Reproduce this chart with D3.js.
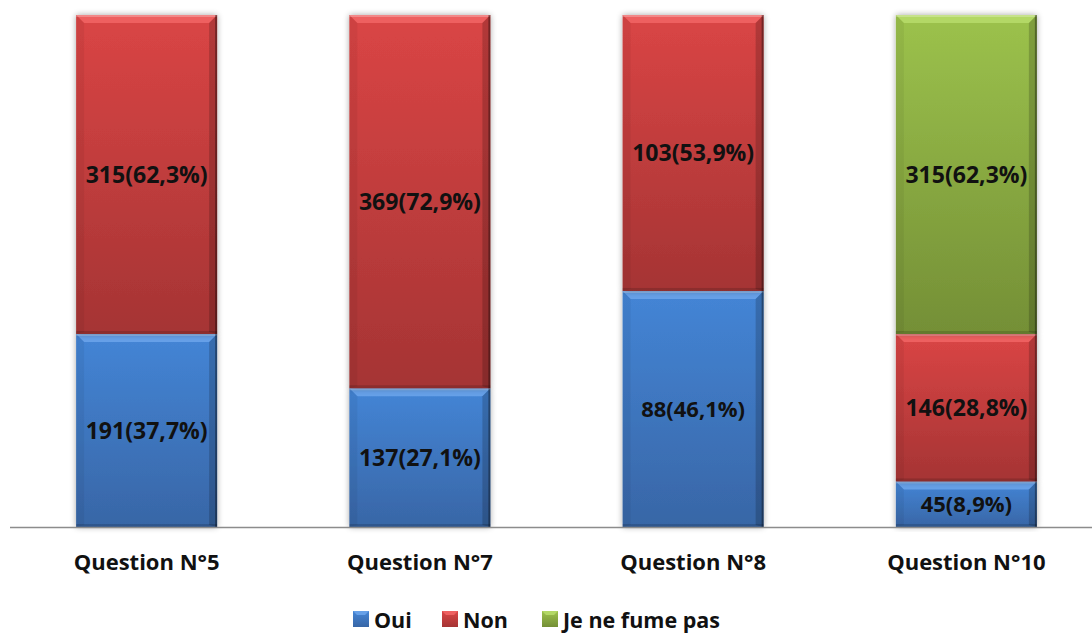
<!DOCTYPE html>
<html>
<head>
<meta charset="utf-8">
<script src="https://cdn.jsdelivr.net/npm/d3@7"></script>
<style>
  body { margin: 0; background: #fff; }
  text { font-family: "Open Sans", "Noto Sans", sans-serif; font-weight: bold; fill: #111; }
</style>
</head>
<body>
<svg id="chart" width="1092" height="635"></svg>
<script>
// data
const questions = ["Question N°5", "Question N°7", "Question N°8", "Question N°10"];
const seriesNames = ["Oui", "Non", "Je ne fume pas"];
const oui = [191, 137, 88, 45];
const ouiPct = [37.7, 27.1, 46.1, 8.9];
const non = [315, 369, 103, 146];
const nonPct = [62.3, 72.9, 53.9, 28.8];
const nofume = [0, 0, 0, 315];
const nofumePct = [0, 0, 0, 62.3];

const colors = {
    "Oui": ["#66a0e8", "#4485d6", "#3866a6"],
    "Non": ["#ee6060", "#da4545", "#a53434"],
    "Je ne fume pas": ["#b3d866", "#9cc24c", "#748f36"]
};

const svg = d3.select("#chart");
const defs = svg.append("defs");

seriesNames.forEach(function (s, k) {
    let g = defs.append("linearGradient")
        .attr("id", "grad" + k)
        .attr("x1", 0).attr("y1", 0).attr("x2", 0).attr("y2", 1);
    g.append("stop").attr("offset", "0%").attr("stop-color", colors[s][1]);
    g.append("stop").attr("offset", "100%").attr("stop-color", colors[s][2]);
});

let shadow = defs.append("filter").attr("id", "shadow")
    .attr("x", "-10%").attr("y", "-10%").attr("width", "120%").attr("height", "120%");
shadow.append("feGaussianBlur").attr("in", "SourceAlpha").attr("stdDeviation", 3);
shadow.append("feOffset").attr("dx", 0).attr("dy", 0).attr("result", "blur");
shadow.append("feComponentTransfer").append("feFuncA").attr("type", "linear").attr("slope", 0.35);
let merge = shadow.append("feMerge");
merge.append("feMergeNode");
merge.append("feMergeNode").attr("in", "SourceGraphic");

// build rows for the stack
const rows = questions.map(function (q, i) {
    return {
        q: q,
        "Oui": ouiPct[i], "Non": nonPct[i], "Je ne fume pas": nofumePct[i],
        counts: { "Oui": oui[i], "Non": non[i], "Je ne fume pas": nofume[i] }
    };
});
const stacked = d3.stack().keys(seriesNames)(rows);

const x = d3.scaleBand()
    .domain(questions)
    .range([10, 1103])
    .paddingInner(0.484)
    .paddingOuter(0.242);

const y = d3.scaleLinear()
    .domain([0, 100])
    .range([527, 15]);

// bars
stacked.forEach(function (layer, k) {
    let g = svg.append("g");
    layer.forEach(function (d) {
        if (d[1] - d[0] <= 0) return;
        let x0 = x(d.data.q), w = x.bandwidth();
        let y0 = y(d[1]), h = y(d[0]) - y(d[1]);
        let b = 8;
        let seg = g.append("g");
        seg.append("rect")
            .attr("x", x0).attr("y", y0).attr("width", w).attr("height", h)
            .attr("fill", "url(#grad" + k + ")")
            .attr("filter", "url(#shadow)");
        // bevel: top highlight
        seg.append("path")
            .attr("d", `M${x0},${y0} L${x0 + w},${y0} L${x0 + w - b},${y0 + b} L${x0 + b},${y0 + b} Z`)
            .attr("fill", colors[seriesNames[k]][0]);
        seg.append("rect")
            .attr("x", x0).attr("y", y0).attr("width", w).attr("height", 2)
            .attr("fill", "#fff").attr("opacity", 0.25);
        // bevel: left side
        seg.append("path")
            .attr("d", `M${x0},${y0} L${x0 + b},${y0 + b} L${x0 + b},${y0 + h - 2} L${x0},${y0 + h} Z`)
            .attr("fill", "#000").attr("opacity", 0.05);
        // bevel: right side
        seg.append("path")
            .attr("d", `M${x0 + w},${y0} L${x0 + w - b},${y0 + b} L${x0 + w - b},${y0 + h - 2} L${x0 + w},${y0 + h} Z`)
            .attr("fill", "#000").attr("opacity", 0.18);
        // bevel: bottom edge
        seg.append("rect")
            .attr("x", x0).attr("y", y0 + h - 3).attr("width", w).attr("height", 3)
            .attr("fill", "#000").attr("opacity", 0.15);
        seg.append("rect")
            .attr("x", x0 + w - 2).attr("y", y0).attr("width", 2).attr("height", h)
            .attr("fill", "#000").attr("opacity", 0.35);

        let s = seriesNames[k];
        let pct = String(d.data[s]).replace(".", ",");
        seg.append("text")
            .attr("x", x0 + w / 2)
            .attr("y", (y0 + y(d[0])) / 2 + 2)
            .attr("text-anchor", "middle")
            .attr("dominant-baseline", "middle")
            .attr("font-size", 23)
            .attr("textLength", 122)
            .attr("lengthAdjust", "spacingAndGlyphs")
            .text(d.data.counts[s] + "(" + pct + "%)")
            .each(function () {
                // only the long labels need squeezing
                if (this.textContent.length < 10) {
                    d3.select(this).attr("textLength", null).attr("lengthAdjust", null)
                        .attr("font-size", 22);
                }
            });
    });
});

// axis line
svg.append("line")
    .attr("x1", 10).attr("x2", 1092)
    .attr("y1", 527.5).attr("y2", 527.5)
    .attr("stroke", "#8c8c8c").attr("stroke-width", 1.5);

// category labels
svg.append("g").selectAll("text")
    .data(questions)
    .enter().append("text")
    .attr("x", function (d) { return x(d) + x.bandwidth() / 2; })
    .attr("y", 570)
    .attr("text-anchor", "middle")
    .attr("font-size", 22)
    .text(function (d) { return d; });

// legend
const legendX = [353, 442, 542];
const legend = svg.append("g");
seriesNames.forEach(function (s, k) {
    let lg = legend.append("g").attr("transform", "translate(" + legendX[k] + ",611)");
    lg.append("rect").attr("width", 16).attr("height", 16)
        .attr("fill", "url(#grad" + k + ")");
    lg.append("path").attr("d", "M0,0 L16,0 L12,4 L4,4 Z").attr("fill", colors[s][0]);
    lg.append("text").attr("x", 21).attr("y", 17)
        .attr("font-size", 21.5)
        .text(s);
});
</script>
</body>
</html>
